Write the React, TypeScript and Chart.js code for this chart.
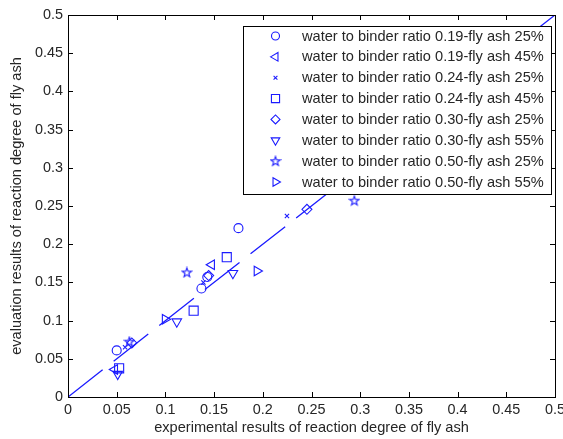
import React, { useEffect, useRef } from 'react';
import { Chart, registerables } from 'chart.js';
import { drawPoint } from 'chart.js/helpers';

Chart.register(...registerables);

// ---------- data ----------
const seriesLabels = [
  'water to binder ratio 0.19-fly ash 25%',
  'water to binder ratio 0.19-fly ash 45%',
  'water to binder ratio 0.24-fly ash 25%',
  'water to binder ratio 0.24-fly ash 45%',
  'water to binder ratio 0.30-fly ash 25%',
  'water to binder ratio 0.30-fly ash 55%',
  'water to binder ratio 0.50-fly ash 25%',
  'water to binder ratio 0.50-fly ash 55%',
];

const wb019fa25 = [
  { x: 0.050, y: 0.061 },
  { x: 0.137, y: 0.142 },
  { x: 0.143, y: 0.157 },
  { x: 0.175, y: 0.221 },
];
const wb019fa45 = [
  { x: 0.048, y: 0.036 },
  { x: 0.1475, y: 0.173 },
];
const wb024fa25 = [
  { x: 0.0586, y: 0.065 },
  { x: 0.139, y: 0.150 },
  { x: 0.2248, y: 0.237 },
];
const wb024fa45 = [
  { x: 0.0525, y: 0.0375 },
  { x: 0.129, y: 0.113 },
  { x: 0.163, y: 0.183 },
];
const wb030fa25 = [
  { x: 0.0655, y: 0.0707 },
  { x: 0.1444, y: 0.159 },
  { x: 0.2453, y: 0.2457 },
];
const wb030fa55 = [
  { x: 0.051, y: 0.030 },
  { x: 0.1117, y: 0.0986 },
  { x: 0.1693, y: 0.162 },
];
const wb050fa25 = [
  { x: 0.063, y: 0.0724 },
  { x: 0.122, y: 0.163 },
  { x: 0.294, y: 0.257 },
];
const wb050fa55 = [
  { x: 0.0997, y: 0.1017 },
  { x: 0.194, y: 0.165 },
];

const fitLineX = [0, 0.5];
const fitLineY = [0, 0.5];

const xTicks = [0, 0.05, 0.1, 0.15, 0.2, 0.25, 0.3, 0.35, 0.4, 0.45, 0.5];
const xTickLabels = ['0', '0.05', '0.1', '0.15', '0.2', '0.25', '0.3', '0.35', '0.4', '0.45', '0.5'];
const yTicks = [0, 0.05, 0.1, 0.15, 0.2, 0.25, 0.3, 0.35, 0.4, 0.45, 0.5];
const yTickLabels = ['0', '0.05', '0.1', '0.15', '0.2', '0.25', '0.3', '0.35', '0.4', '0.45', '0.5'];

const xTitle = 'experimental results of reaction degree of fly ash';
const yTitle = 'evaluation results of reaction degree of fly ash';

// ---------- styling ----------
const BLUE = '#1a1aff';
const FONT = "'Liberation Sans', Arial, sans-serif";
const TEXT = '#262626';

function makeStar(): HTMLCanvasElement {
  const c = document.createElement('canvas');
  c.width = 12;
  c.height = 12;
  const ctx = c.getContext('2d')!;
  const cx = 6, cy = 6.3, ro = 4.9, ri = 2.0;
  ctx.beginPath();
  for (let i = 0; i < 10; i++) {
    const r = i % 2 === 0 ? ro : ri;
    const a = -Math.PI / 2 + (i * Math.PI) / 5;
    const px = cx + r * Math.cos(a);
    const py = cy + r * Math.sin(a);
    if (i === 0) ctx.moveTo(px, py);
    else ctx.lineTo(px, py);
  }
  ctx.closePath();
  ctx.strokeStyle = BLUE;
  ctx.lineWidth = 1.1;
  ctx.stroke();
  return c;
}

export default function App() {
  const ref = useRef<HTMLCanvasElement | null>(null);

  useEffect(() => {
    if (!ref.current) return;
    const star = makeStar();

    const markerDefs = [
      { data: wb019fa25, pointStyle: 'circle', radius: 4.5, rotation: 0 },
      { data: wb019fa45, pointStyle: 'triangle', radius: 5.5, rotation: -90 },
      { data: wb024fa25, pointStyle: 'crossRot', radius: 3, rotation: 0 },
      { data: wb024fa45, pointStyle: 'rect', radius: 6.4, rotation: 0 },
      { data: wb030fa25, pointStyle: 'rectRot', radius: 5, rotation: 0 },
      { data: wb030fa55, pointStyle: 'triangle', radius: 5.5, rotation: 180 },
      { data: wb050fa25, pointStyle: star as any, radius: 5, rotation: 0 },
      { data: wb050fa55, pointStyle: 'triangle', radius: 5.5, rotation: 90 },
    ];

    const scatterSets = markerDefs.map((m, i) => ({
      type: 'scatter' as const,
      label: seriesLabels[i],
      data: m.data,
      pointStyle: m.pointStyle,
      pointRadius: m.radius,
      pointRotation: m.rotation,
      borderColor: BLUE,
      backgroundColor: 'rgba(0,0,0,0)',
      borderWidth: 1.1,
      showLine: false,
      order: 1,
    }));

    const lineSet = {
      type: 'line' as const,
      label: 'fit',
      data: fitLineX.map((x, i) => ({ x, y: fitLineY[i] })),
      borderColor: BLUE,
      borderWidth: 1.3,
      borderDash: [44, 14],
      pointRadius: 0,
      fill: false,
      order: 2,
    };

    const bgPlugin = {
      id: 'bg',
      beforeDraw(chart: any) {
        const ctx = chart.ctx;
        ctx.save();
        ctx.fillStyle = '#ffffff';
        ctx.fillRect(0, 0, chart.width, chart.height);
        ctx.restore();
      },
    };

    const framePlugin = {
      id: 'frame',
      afterDraw(chart: any) {
        const ctx = chart.ctx;
        const { left, right, top, bottom } = chart.chartArea;
        const xs = chart.scales.x;
        const ys = chart.scales.y;
        ctx.save();
        ctx.strokeStyle = '#000000';
        ctx.lineWidth = 1;
        const tl = 5;
        ctx.beginPath();
        xTicks.forEach((v) => {
          const p = Math.round(xs.getPixelForValue(v)) + 0.5;
          ctx.moveTo(p, bottom);
          ctx.lineTo(p, bottom - tl);
          ctx.moveTo(p, top);
          ctx.lineTo(p, top + tl);
        });
        yTicks.forEach((v) => {
          const p = Math.round(ys.getPixelForValue(v)) + 0.5;
          ctx.moveTo(left, p);
          ctx.lineTo(left + tl, p);
          ctx.moveTo(right, p);
          ctx.lineTo(right - tl, p);
        });
        ctx.stroke();
        ctx.strokeRect(Math.round(left) + 0.5, Math.round(top) + 0.5, Math.round(right - left), Math.round(bottom - top));

        // legend
        const bx = Math.round(right) - 311.5;
        const by = Math.round(top) + 11.5;
        const bw = 308;
        const bh = 168;
        ctx.fillStyle = '#ffffff';
        ctx.fillRect(bx, by, bw, bh);
        ctx.strokeStyle = '#000000';
        ctx.strokeRect(bx, by, bw, bh);
        const rowH = 20.86;
        markerDefs.forEach((m, i) => {
          const cy = by + 9.5 + i * rowH;
          ctx.save();
          ctx.strokeStyle = BLUE;
          ctx.fillStyle = 'rgba(0,0,0,0)';
          ctx.lineWidth = 1.1;
          drawPoint(ctx, {
            pointStyle: m.pointStyle,
            rotation: m.rotation,
            radius: m.pointStyle === 'circle' ? 4 : m.radius * 0.9,
            borderWidth: 1.1,
          } as any, bx + 32, cy);
          ctx.restore();
          ctx.fillStyle = TEXT;
          ctx.font = `14.6px ${FONT}`;
          ctx.textBaseline = 'middle';
          ctx.textAlign = 'left';
          ctx.fillText(seriesLabels[i], bx + 58.5, cy + 0.5);
        });
        ctx.restore();
      },
    };

    const chart = new Chart(ref.current, {
      data: { datasets: [lineSet as any, ...scatterSets] },
      options: {
        responsive: false,
        animation: false,
        devicePixelRatio: 1,
        layout: { padding: { top: 15, right: 8, left: 0, bottom: 0 } },
        plugins: {
          legend: { display: false },
          tooltip: { enabled: false },
        },
        scales: {
          x: {
            type: 'linear',
            min: 0,
            max: 0.5,
            afterBuildTicks: (s: any) => {
              s.ticks = xTicks.map((v) => ({ value: v }));
            },
            afterFit: (s: any) => {
              s.height = 42;
              s.paddingLeft = 0;
              s.paddingRight = 0;
            },
            ticks: {
              autoSkip: false,
              maxRotation: 0,
              padding: 4,
              color: TEXT,
              font: { family: FONT, size: 14.4 },
              callback: (_v: any, i: number) => xTickLabels[i],
            },
            grid: { display: false, drawTicks: false },
            border: { display: false },
            title: {
              display: true,
              text: xTitle,
              color: TEXT,
              font: { family: FONT, size: 14.6 },
              padding: { top: 0, bottom: 2 },
            },
          },
          y: {
            type: 'linear',
            min: 0,
            max: 0.5,
            afterBuildTicks: (s: any) => {
              s.ticks = yTicks.map((v) => ({ value: v }));
            },
            afterFit: (s: any) => {
              s.width = 68;
              s.paddingTop = 0;
              s.paddingBottom = 0;
            },
            ticks: {
              autoSkip: false,
              padding: 5,
              color: TEXT,
              font: { family: FONT, size: 14.4 },
              callback: (_v: any, i: number) => yTickLabels[i],
            },
            grid: { display: false, drawTicks: false },
            border: { display: false },
            title: {
              display: true,
              text: yTitle,
              color: TEXT,
              font: { family: FONT, size: 14.6 },
              padding: { top: 8, bottom: 0 },
            },
          },
        },
      },
      plugins: [bgPlugin, framePlugin],
    });

    return () => chart.destroy();
  }, []);

  return (
    <div style={{ position: 'absolute', left: 0, top: 0, width: 563, height: 439 }}>
      <canvas ref={ref} width={563} height={439} style={{ display: 'block', width: 563, height: 439 }} />
    </div>
  );
}
